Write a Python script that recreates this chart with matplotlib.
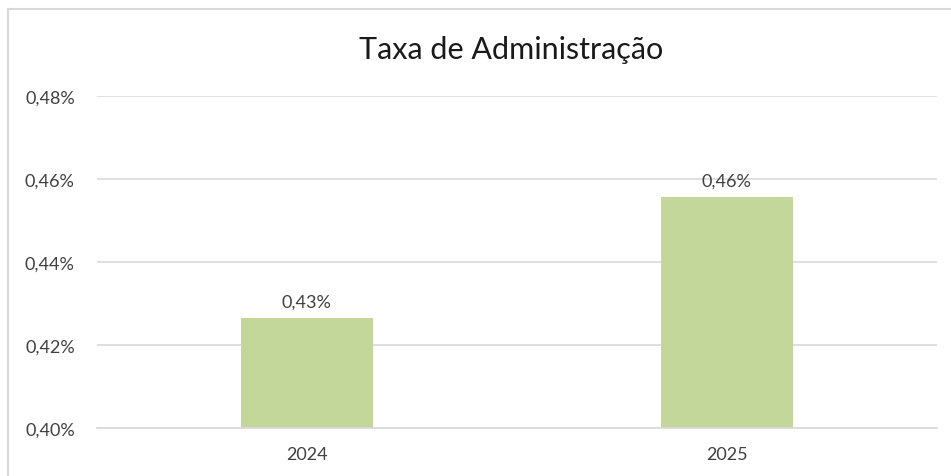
import matplotlib
matplotlib.use("Agg")
import matplotlib.pyplot as plt
from matplotlib.lines import Line2D
import numpy as np

# data
anos = ['2024', '2025']
taxa = [0.4265, 0.4557]
rotulos = ['0,43%', '0,46%']
y_ticks = [0.40, 0.42, 0.44, 0.46, 0.48]
y_labels = ['0,40%', '0,42%', '0,44%', '0,46%', '0,48%']

plt.rcParams['font.family'] = ['Lato', 'DejaVu Sans']

fig = plt.figure(figsize=(9.51, 4.77), dpi=100)
ax = fig.add_axes([0.102, 0.1006, 0.883, 0.696])

x = np.arange(len(anos))
bars = ax.bar(x, taxa, width=0.314, color='#C4D79B', zorder=2)

for b, lab in zip(bars, rotulos):
    ax.annotate(lab, (b.get_x() + b.get_width() / 2, b.get_height()),
                xytext=(0, 6), textcoords='offset points',
                ha='center', va='bottom', fontsize=13, color='#404040')

ax.set_xlim(-0.5, 1.5)
ax.set_ylim(0.40, 0.48)
ax.set_yticks(y_ticks)
ax.set_yticklabels(y_labels, fontsize=13, color='#404040')
ax.set_xticks(x)
ax.set_xticklabels(anos, fontsize=13, color='#404040')
ax.tick_params(axis='both', length=0)
ax.tick_params(axis='y', pad=16)
ax.tick_params(axis='x', pad=13)

ax.grid(axis='y', color='#D9D9D9', linewidth=1.2, zorder=0)
for s in ['top', 'right', 'left']:
    ax.spines[s].set_visible(False)
ax.spines['bottom'].set_color('#D9D9D9')
ax.spines['bottom'].set_linewidth(1.2)

fig.text(0.537, 0.895, 'Taxa de Administração', ha='center', va='center',
         fontsize=22, color='#1a1a1a')

# moldura do gráfico
fig.add_artist(Line2D([8 / 951, 1], [1 - 10 / 477, 1 - 10 / 477],
                      color='#D9D9D9', linewidth=1.5))
fig.add_artist(Line2D([8 / 951, 8 / 951], [0, 1 - 10 / 477],
                      color='#D9D9D9', linewidth=1.5))

fig.savefig('out.png', dpi=100)
